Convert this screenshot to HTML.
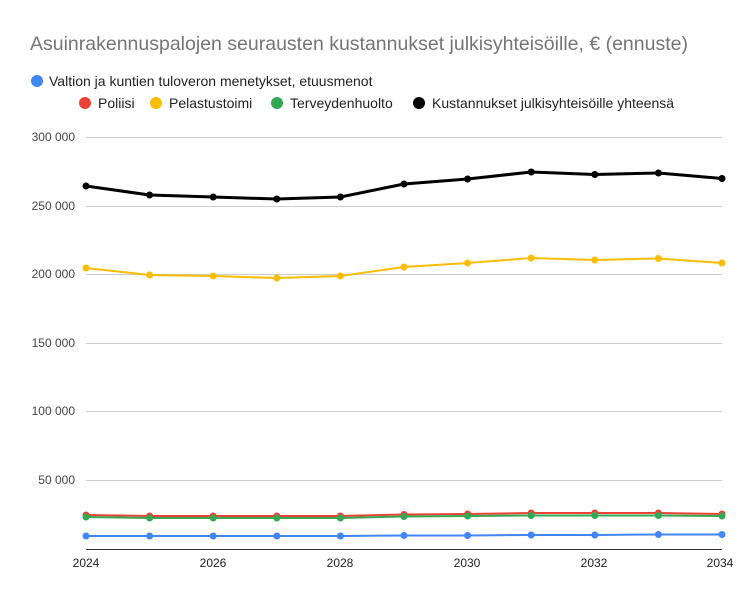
<!DOCTYPE html>
<html><head><style>body{margin:0;background:#fff}</style></head><body>
<svg width="755" height="600" xmlns="http://www.w3.org/2000/svg" font-family="Liberation Sans, sans-serif">
<rect width="755" height="600" fill="#fff"/>
<text x="30" y="50" font-size="19.5" fill="#757575">Asuinrakennuspalojen seurausten kustannukset julkisyhteisöille, € (ennuste)</text>
<g font-size="14" fill="#222">
<circle cx="37" cy="81" r="6" fill="#4285f4"/><text x="49" y="86">Valtion ja kuntien tuloveron menetykset, etuusmenot</text>
<circle cx="85" cy="103" r="6" fill="#ea4335"/><text x="98" y="108">Poliisi</text>
<circle cx="156" cy="103" r="6" fill="#fbbc04"/><text x="169" y="108">Pelastustoimi</text>
<circle cx="277" cy="103" r="6" fill="#34a853"/><text x="290" y="108">Terveydenhuolto</text>
<circle cx="419" cy="103" r="6" fill="#000"/><text x="432" y="108">Kustannukset julkisyhteisöille yhteensä</text>
</g>
<g stroke="#ccc" stroke-width="1">
<line x1="86" x2="722" y1="137.5" y2="137.5"/><line x1="86" x2="722" y1="206.5" y2="206.5"/>
<line x1="86" x2="722" y1="274.5" y2="274.5"/><line x1="86" x2="722" y1="343.5" y2="343.5"/>
<line x1="86" x2="722" y1="411.5" y2="411.5"/><line x1="86" x2="722" y1="480.5" y2="480.5"/>
</g>
<line x1="86" x2="722" y1="549.5" y2="549.5" stroke="#333"/>
<g font-size="12" fill="#444" text-anchor="end">
<text x="75" y="141">300 000</text><text x="75" y="210">250 000</text><text x="75" y="278">200 000</text>
<text x="75" y="347">150 000</text><text x="75" y="415">100 000</text><text x="75" y="484">50 000</text>
</g>
<g font-size="12" fill="#222" text-anchor="middle">
<text x="86" y="567">2024</text><text x="213" y="567">2026</text><text x="340" y="567">2028</text>
<text x="467" y="567">2030</text><text x="594" y="567">2032</text><text x="720" y="567">2034</text>
</g>
<g fill="none" stroke-width="2">
<polyline stroke="#4285f4" points="86,536 149.6,536 213.2,536 276.8,536 340.4,536 404,535.5 467.6,535.5 531.2,535 594.8,535 658.4,534.5 722,534.5"/>
<polyline stroke="#ea4335" points="86,515 149.6,516 213.2,516 276.8,516 340.4,516 404,514.5 467.6,514 531.2,513 594.8,513 658.4,513 722,514"/>
<polyline stroke="#34a853" points="86,517 149.6,518 213.2,518 276.8,518 340.4,518 404,516.5 467.6,516 531.2,515.5 594.8,515.5 658.4,515.5 722,516"/>
<polyline stroke="#fbbc04" points="86,268 149.6,275 213.2,276 276.8,278 340.4,276 404,267 467.6,263 531.2,258 594.8,260 658.4,258.5 722,263"/>
<polyline stroke="#000" stroke-width="3" points="86,186 149.6,195 213.2,197 276.8,199 340.4,197 404,184 467.6,179 531.2,172 594.8,174.5 658.4,173 722,178.5"/>
</g>
<g fill="#4285f4"><circle cx="86" cy="536" r="3.5"/><circle cx="149.6" cy="536" r="3.5"/><circle cx="213.2" cy="536" r="3.5"/><circle cx="276.8" cy="536" r="3.5"/><circle cx="340.4" cy="536" r="3.5"/><circle cx="404" cy="535.5" r="3.5"/><circle cx="467.6" cy="535.5" r="3.5"/><circle cx="531.2" cy="535" r="3.5"/><circle cx="594.8" cy="535" r="3.5"/><circle cx="658.4" cy="534.5" r="3.5"/><circle cx="722" cy="534.5" r="3.5"/></g>
<g fill="#ea4335"><circle cx="86" cy="515" r="3.5"/><circle cx="149.6" cy="516" r="3.5"/><circle cx="213.2" cy="516" r="3.5"/><circle cx="276.8" cy="516" r="3.5"/><circle cx="340.4" cy="516" r="3.5"/><circle cx="404" cy="514.5" r="3.5"/><circle cx="467.6" cy="514" r="3.5"/><circle cx="531.2" cy="513" r="3.5"/><circle cx="594.8" cy="513" r="3.5"/><circle cx="658.4" cy="513" r="3.5"/><circle cx="722" cy="514" r="3.5"/></g>
<g fill="#34a853"><circle cx="86" cy="517" r="3.5"/><circle cx="149.6" cy="518" r="3.5"/><circle cx="213.2" cy="518" r="3.5"/><circle cx="276.8" cy="518" r="3.5"/><circle cx="340.4" cy="518" r="3.5"/><circle cx="404" cy="516.5" r="3.5"/><circle cx="467.6" cy="516" r="3.5"/><circle cx="531.2" cy="515.5" r="3.5"/><circle cx="594.8" cy="515.5" r="3.5"/><circle cx="658.4" cy="515.5" r="3.5"/><circle cx="722" cy="516" r="3.5"/></g>
<g fill="#fbbc04"><circle cx="86" cy="268" r="3.5"/><circle cx="149.6" cy="275" r="3.5"/><circle cx="213.2" cy="276" r="3.5"/><circle cx="276.8" cy="278" r="3.5"/><circle cx="340.4" cy="276" r="3.5"/><circle cx="404" cy="267" r="3.5"/><circle cx="467.6" cy="263" r="3.5"/><circle cx="531.2" cy="258" r="3.5"/><circle cx="594.8" cy="260" r="3.5"/><circle cx="658.4" cy="258.5" r="3.5"/><circle cx="722" cy="263" r="3.5"/></g>
<g fill="#000"><circle cx="86" cy="186" r="3.5"/><circle cx="149.6" cy="195" r="3.5"/><circle cx="213.2" cy="197" r="3.5"/><circle cx="276.8" cy="199" r="3.5"/><circle cx="340.4" cy="197" r="3.5"/><circle cx="404" cy="184" r="3.5"/><circle cx="467.6" cy="179" r="3.5"/><circle cx="531.2" cy="172" r="3.5"/><circle cx="594.8" cy="174.5" r="3.5"/><circle cx="658.4" cy="173" r="3.5"/><circle cx="722" cy="178.5" r="3.5"/></g>
</svg>
</body></html>
